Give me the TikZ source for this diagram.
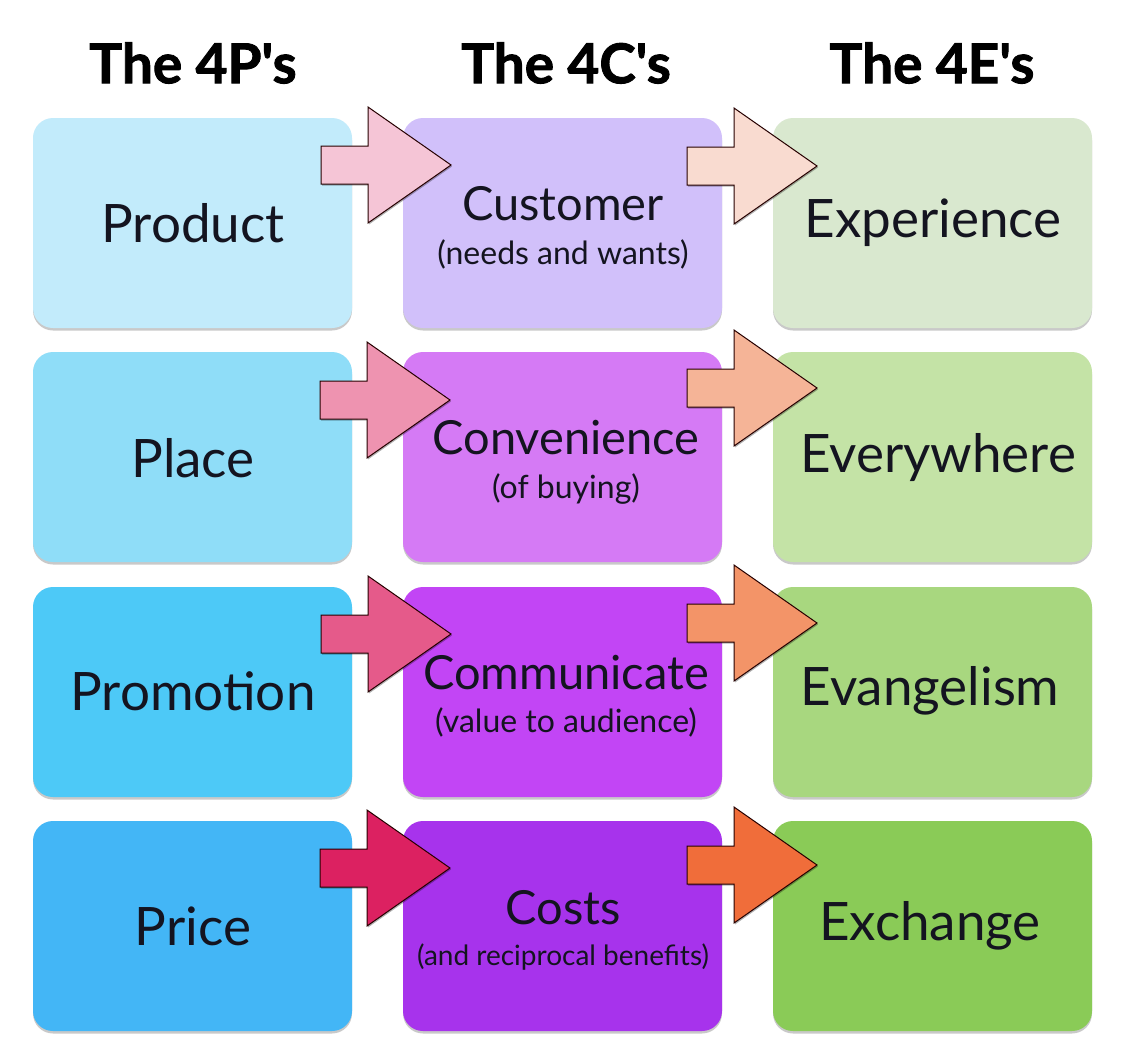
\documentclass[tikz,border=0pt]{standalone}
\usepackage{fontspec}
\setmainfont{Lato}
\newfontfamily\headfont{Lato}[BoldFeatures={FakeBold=1.6}]
\usetikzlibrary{shadows}
\definecolor{pA}{HTML}{C2EBFB}
\definecolor{pB}{HTML}{8FDDF8}
\definecolor{pC}{HTML}{4DC9F7}
\definecolor{pD}{HTML}{43B6F6}
\definecolor{cA}{HTML}{D1C0FA}
\definecolor{cB}{HTML}{D57AF5}
\definecolor{cC}{HTML}{C245F5}
\definecolor{cD}{HTML}{A733EC}
\definecolor{eA}{HTML}{D9E8CF}
\definecolor{eB}{HTML}{C4E3A6}
\definecolor{eC}{HTML}{A8D77F}
\definecolor{eD}{HTML}{8ACB57}
\definecolor{aA}{HTML}{F5C5D6}
\definecolor{aB}{HTML}{EE93B0}
\definecolor{aC}{HTML}{E55A8A}
\definecolor{aD}{HTML}{DC2161}
\definecolor{bA}{HTML}{F9DBD0}
\definecolor{bB}{HTML}{F5B497}
\definecolor{bC}{HTML}{F39468}
\definecolor{bD}{HTML}{F06D3A}
\definecolor{ink}{HTML}{141420}
\newcommand{\blkarrow}[4]{% name, colour, tip x, tip y
  \draw[blkarr, fill=#2] (#3-130,#4-19) -- (#3-83,#4-19) -- (#3-83,#4-58)
    -- (#3,#4) -- (#3-83,#4+58) -- (#3-83,#4+19) -- (#3-130,#4+19) -- cycle;
  \coordinate (#1) at (#3,#4);}
\tikzset{
  box/.style={rounded corners=20pt, minimum width=319pt, minimum height=210pt,
    draw=none, inner sep=0pt,
    drop shadow={shadow xshift=0pt, shadow yshift=-2.5pt, opacity=0.35, fill=black!60}},
  head/.style={font=\fontsize{55}{62}\selectfont\headfont\bfseries, text=black},
  main/.style={font=\fontsize{53}{60}\selectfont, text=ink},
  mainc/.style={font=\fontsize{47}{54}\selectfont, text=ink},
  sub/.style={font=\fontsize{32}{36}\selectfont, text=ink},
  blkarr/.style={draw=black!85!red, line width=1pt, line join=miter,
    drop shadow={shadow xshift=1pt, shadow yshift=-1.5pt, opacity=0.3, fill=black}}
}
\begin{document}
\begin{tikzpicture}[x=1pt,y=-1pt]
\useasboundingbox[fill=white] (0,0) rectangle (1123,1058);
% headings
\node[head] (hP) at (193,63) {The 4P\char39s};
\node[head] (hC) at (566,63) {The 4C\char39s};
\node[head] (hE) at (932,63) {The 4E\char39s};
% boxes
\foreach \r/\y in {A/223,B/457,C/692,D/926}{
  \node[box, fill=p\r] (P\r) at (192.5,\y) {};
  \node[box, fill=c\r] (C\r) at (562.5,\y) {};
  \node[box, fill=e\r] (E\r) at (932.5,\y) {};
}
% texts
\node[main] (tProduct) at (193,223) {Product};
\node[main] (tPlace) at (193,458) {Place};
\node[main] (tPromotion) at (193,691) {Promotion};
\node[main] (tPrice) at (193,926) {Price};
\node[mainc] (tCustomer) at (563,204) {Customer};
\node[sub] (sCustomer) at (563,254) {(needs and wants)};
\node[mainc] (tConvenience) at (566,438) {Convenience};
\node[sub] (sConvenience) at (566,489) {(of buying)};
\node[mainc] (tCommunicate) at (566,673) {Communicate};
\node[sub] (sCommunicate) at (566,722) {(value to audience)};
\node[mainc] (tCosts) at (563,908) {Costs};
\node[sub, font=\fontsize{28}{32}\selectfont] (sCosts) at (563,957) {(and reciprocal benefits)};
\node[main] (tExperience) at (933,223) {Experience};
\node[main] (tEverywhere) at (938,458) {Everywhere};
\node[main] (tEvangelism) at (930,691) {Evangelism};
\node[main] (tExchange) at (930,926) {Exchange};
% arrows
\blkarrow{a1}{aA}{451}{165}
\blkarrow{a2}{aB}{450}{400}
\blkarrow{a3}{aC}{451}{634}
\blkarrow{a4}{aD}{450}{868}
\blkarrow{b1}{bA}{817}{166}
\blkarrow{b2}{bB}{817}{388}
\blkarrow{b3}{bC}{817}{623}
\blkarrow{b4}{bD}{817}{865}
\end{tikzpicture}
\end{document}
